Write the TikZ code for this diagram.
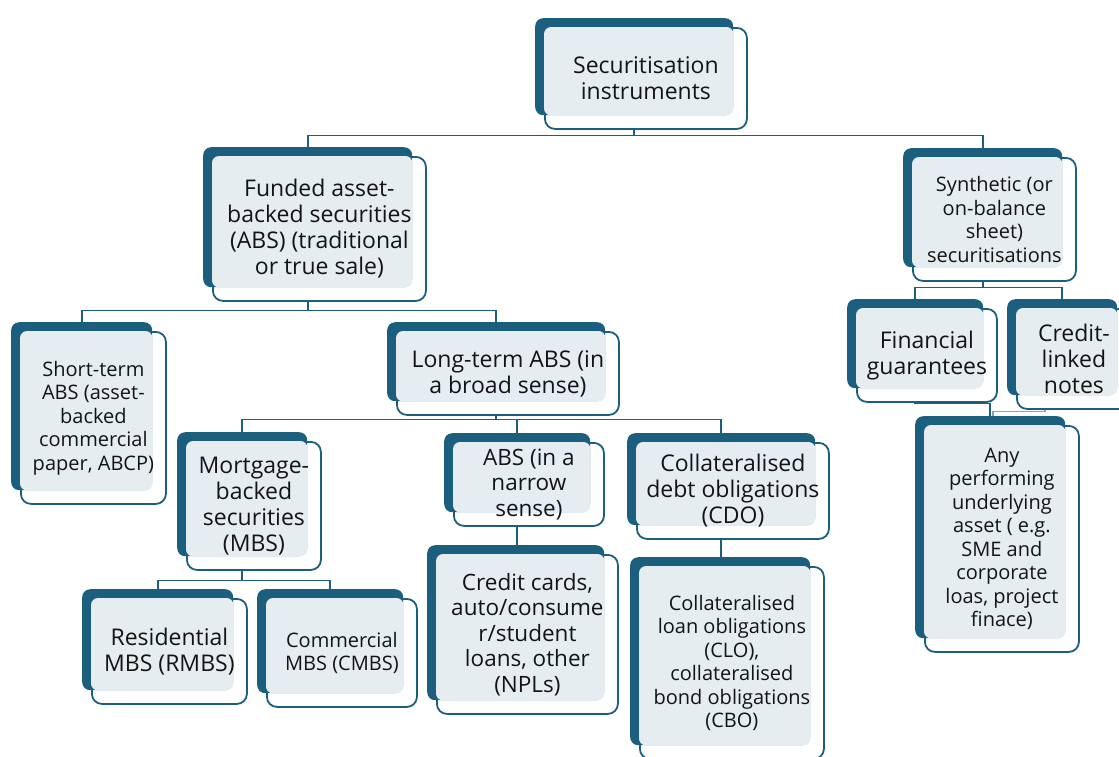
\documentclass[tikz,border=0pt]{standalone}
\usepackage{fontspec}
\setmainfont{Open Sans}
\usetikzlibrary{positioning,calc}
\definecolor{petrol}{HTML}{1B5E7E}
\definecolor{mist}{HTML}{E6EDF1}
\pgfdeclarelayer{back}
\pgfsetlayers{back,main}
\tikzset{
  panel/.style={fill=petrol,rounded corners=8pt,inner sep=0pt,anchor=north west},
  card/.style={draw=petrol,line width=1.8pt,fill=white,rounded corners=10pt,inner sep=0pt,anchor=north west},
  link/.style={draw=petrol,line width=1.8pt},
  txtl/.style={font=\fontsize{23}{26}\selectfont},
  txtm/.style={font=\fontsize{22.5}{25.5}\selectfont},
  txts/.style={font=\fontsize{20}{23.5}\selectfont},
}
\newcommand{\instbox}[7]{%
  % #1 name, #2/#3 top-left of dark panel, #4/#5 its size, #6 text style
  \node[card,minimum width=#4+4,minimum height=#5+4] (#1-f) at (#2+9,#3+9) {};
  \node[panel,minimum width=#4,minimum height=#5] (#1) at (#2,#3) {};
  \fill[mist,rounded corners=7pt] (#1-f.north west) rectangle (#1.south east);
  \node[#6,align=center,text=black!92] (#1-t) at (#1-f.center) {#7};
}

\begin{document}
\begin{tikzpicture}[x=1pt,y=-1pt]
  \useasboundingbox (0,0) rectangle (1119,756);
  \clip (0,0) rectangle (1119,756);

  % top level
  \instbox{sec}{535}{18}{198}{97}{txtl}{Securitisation\\instruments}
  \instbox{fund}{203}{147}{209}{140}{txtl}{Funded asset-\\backed securities\\(ABS) (traditional\\or true sale)}
  \instbox{syn}{903}{148}{159}{119}{txts}{Synthetic (or\\on-balance\\sheet)\\securitisations}

  % funded branch
  \instbox{short}{11}{322}{141}{168}{txts}{Short-term\\ABS (asset-\\backed\\commercial\\paper, ABCP)}
  \instbox{long}{387}{322}{218}{79}{txtl}{Long-term ABS (in\\a broad sense)}
  \instbox{mort}{177}{432}{130}{124}{txtl}{Mortgage-\\backed\\securities\\(MBS)}
  \instbox{narrow}{444}{433}{146}{79}{txtm}{ABS (in a\\narrow\\sense)}
  \instbox{cdo}{627}{433}{188}{92}{txtl}{Collateralised\\debt obligations\\(CDO)}
  \instbox{res}{82}{589}{151}{101}{txtl}{Residential\\MBS (RMBS)}
  \instbox{com}{257}{589}{146}{104}{txts}{Commercial\\MBS (CMBS)}
  \instbox{cards}{427}{545}{177}{155}{txtm}{Credit cards,\\auto/consume\\r/student\\loans, other\\(NPLs)}
  \instbox{clo}{630}{557}{180}{188}{txts}{Collateralised\\loan obligations\\(CLO),\\collateralised\\bond obligations\\(CBO)}

  % synthetic branch
  \instbox{fin}{847}{299}{136}{89}{txtl}{Financial\\guarantees}
  \instbox{cln}{1007}{299}{110}{96}{txtl}{Credit-\\linked\\notes}
  \instbox{any}{915}{416}{150}{222}{txts}{Any\\performing\\underlying\\asset ( e.g.\\SME and\\corporate\\loas, project\\finace)}

  \begin{pgfonlayer}{back}
    \draw[link] (sec.south) -- ++(0,20) coordinate (secbus);
    \draw[link] (fund.north) |- (secbus) -| (syn.north);
    \draw[link] (fund.south) -- ++(0,23) coordinate (fundbus);
    \draw[link] (short.north) |- (fundbus) -| (long.north);
    \draw[link] (long.south) -- ++(0,18) coordinate (longbus);
    \draw[link] (mort.north) |- (longbus) -| (cdo.north);
    \draw[link] (narrow.north) -- (narrow.north |- longbus);
    \draw[link] (mort.south) -- ++(0,24) coordinate (mortbus);
    \draw[link] (res.north) |- (mortbus) -| (com.north);
    \draw[link] (narrow.south) -- (narrow.south |- cards.north);
    \draw[link] (cdo.south) -- (cdo.south |- clo.north);
    \draw[link] (syn.south) -- ++(0,20) coordinate (synbus);
    \draw[link] (fin.north) |- (synbus) -| (cln.north);
    \draw[link] (fin.south) -- ++(0,15) -| (any.north);
    \draw[link,petrol!55] ($(cln.south)+(-17,0)$) -- ++(0,16) -| ($(any.north)+(3,0)$);
  \end{pgfonlayer}
\end{tikzpicture}
\end{document}
